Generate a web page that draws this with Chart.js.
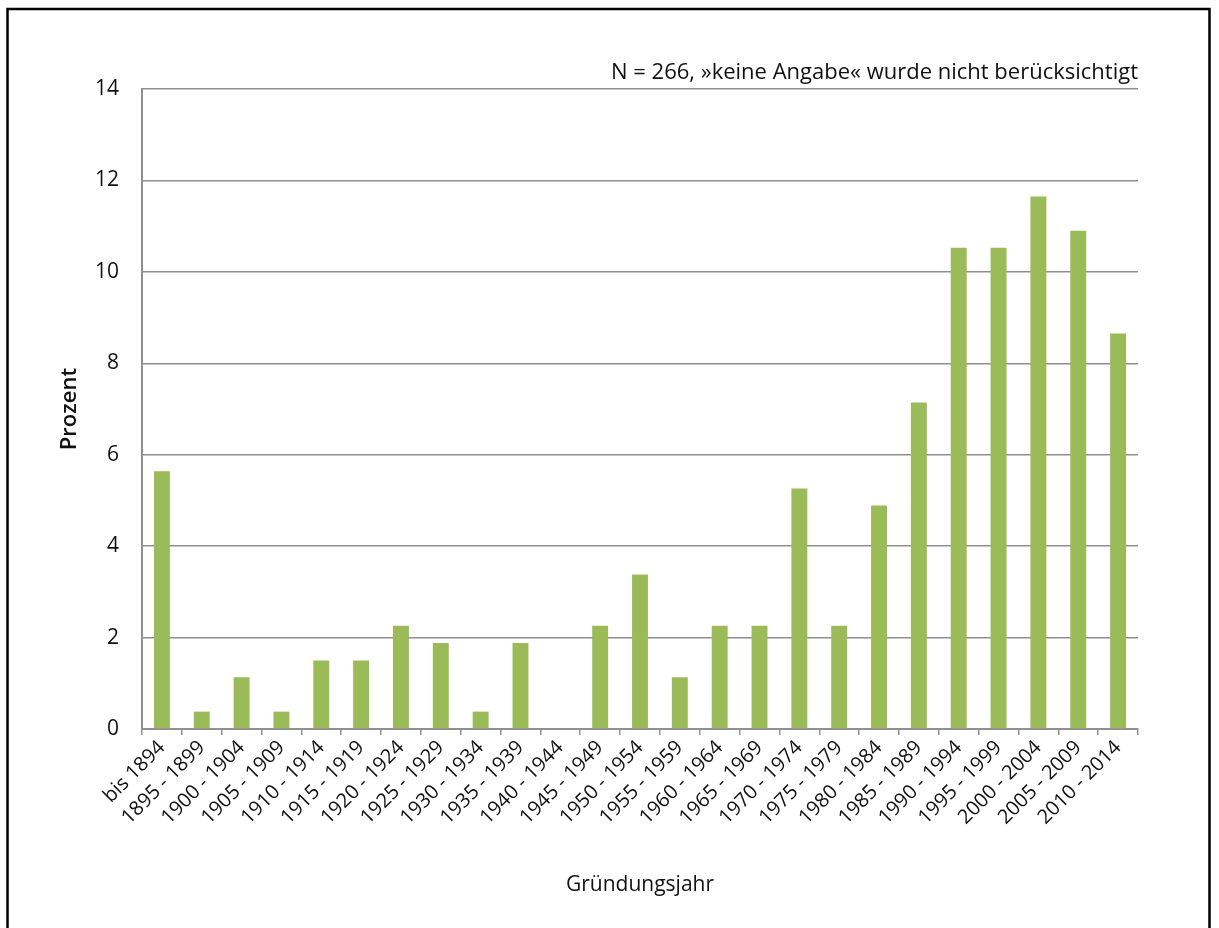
<!DOCTYPE html>
<html>
<head>
<meta charset="utf-8">
<script src="https://cdn.jsdelivr.net/npm/chart.js@4/dist/chart.umd.min.js"></script>
<style>
  html, body { margin: 0; padding: 0; background: #fff; }
  #wrap { width: 1219px; height: 928px; position: relative; }
</style>
</head>
<body>
<div id="wrap"><canvas id="chart" width="1219" height="928"></canvas></div>
<script>
const categories = [
  "bis 1894", "1895 - 1899", "1900 - 1904", "1905 - 1909", "1910 - 1914",
  "1915 - 1919", "1920 - 1924", "1925 - 1929", "1930 - 1934", "1935 - 1939",
  "1940 - 1944", "1945 - 1949", "1950 - 1954", "1955 - 1959", "1960 - 1964",
  "1965 - 1969", "1970 - 1974", "1975 - 1979", "1980 - 1984", "1985 - 1989",
  "1990 - 1994", "1995 - 1999", "2000 - 2004", "2005 - 2009", "2010 - 2014"
];
const percent = [
  5.64, 0.38, 1.13, 0.38, 1.50,
  1.50, 2.26, 1.88, 0.38, 1.88,
  0, 2.26, 3.38, 1.13, 2.26,
  2.26, 5.26, 2.26, 4.89, 7.14,
  10.53, 10.53, 11.65, 10.90, 8.65
];
const yTicks = [0, 2, 4, 6, 8, 10, 12, 14];
const note = "N = 266, »keine Angabe« wurde nicht berücksichtigt";

const FONT = "'Open Sans', 'Noto Sans', sans-serif";
const GRID = "#8f8f8f";

// frame around the figure and the note above the plot
const decorations = {
  id: "decorations",
  afterDraw(chart) {
    const ctx = chart.ctx;
    const area = chart.chartArea;
    ctx.save();
    ctx.strokeStyle = "#000";
    ctx.lineWidth = 2.5;
    ctx.strokeRect(7.5, 9, 1202, 940);
    ctx.fillStyle = "#111";
    ctx.font = "22px " + FONT;
    ctx.textAlign = "right";
    ctx.textBaseline = "alphabetic";
    ctx.fillText(note, area.right, area.top - 10);
    ctx.restore();
  }
};

new Chart(document.getElementById("chart"), {
  type: "bar",
  data: {
    labels: categories,
    datasets: [{
      label: "Prozent",
      data: percent,
      backgroundColor: "#9bbb59",
      borderWidth: 0,
      categoryPercentage: 1,
      barPercentage: 0.4
    }]
  },
  options: {
    responsive: false,
    animation: false,
    layout: { padding: { left: 0, top: 89, right: 81, bottom: 0 } },
    plugins: {
      legend: { display: false },
      tooltip: { enabled: false }
    },
    scales: {
      x: {
        grid: {
          offset: true,
          drawOnChartArea: false,
          drawTicks: true,
          tickLength: 6,
          color: GRID,
          lineWidth: 1.5
        },
        border: { color: GRID, width: 2 },
        ticks: {
          color: "#111",
          font: { family: FONT, size: 20 },
          minRotation: 45,
          maxRotation: 45,
          autoSkip: false,
          padding: 1
        },
        title: {
          display: true,
          text: "Gründungsjahr",
          color: "#111",
          font: { family: FONT, size: 21 },
          padding: { top: 0, bottom: 30 }
        },
        afterFit: s => { s.height = 199; }
      },
      y: {
        min: 0,
        max: 14,
        afterBuildTicks: s => { s.ticks = yTicks.map(v => ({ value: v })); },
        grid: { color: GRID, lineWidth: 1.5, drawTicks: false },
        border: { color: GRID, width: 2 },
        ticks: {
          color: "#111",
          font: { family: FONT, size: 21 },
          padding: 23
        },
        title: {
          display: true,
          text: "Prozent",
          color: "#111",
          font: { family: FONT, size: 22, weight: "600" },
          padding: { top: 57, bottom: 0 }
        },
        afterFit: s => { s.width = 142; }
      }
    }
  },
  plugins: [decorations]
});
</script>
</body>
</html>
